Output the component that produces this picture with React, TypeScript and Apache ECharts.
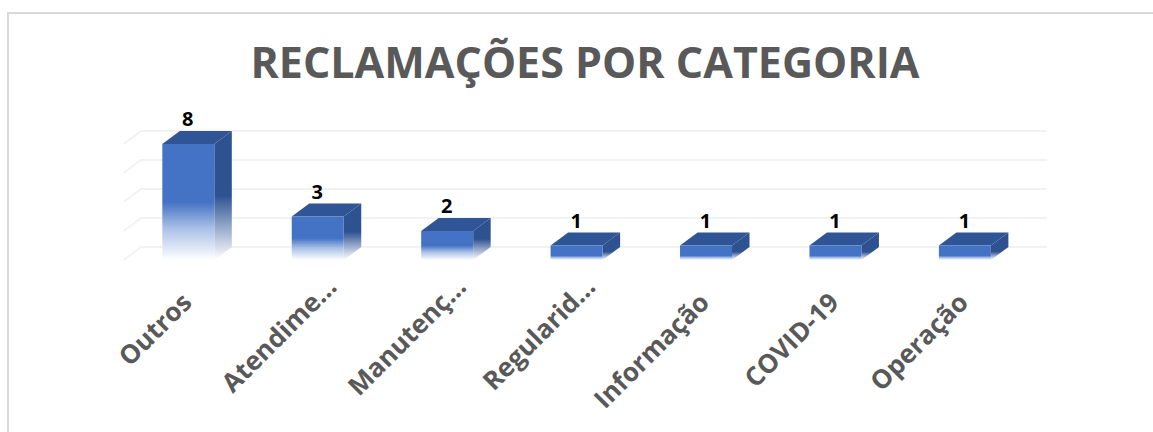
import React, { useEffect, useRef } from "react";
import * as echarts from "echarts";

const categories = ["Outros", "Atendime...", "Manutenç...", "Regularid...", "Informação", "COVID-19", "Operação"];
const values = [8, 3, 2, 1, 1, 1, 1];
const wallTicks = [0, 2, 4, 6, 8];

const DX = 17.5;
const DY = 13;
const BAR_W = 52;

const labelFont = {
  fontFamily: "Open Sans",
  fontWeight: 700,
  fontSize: 26,
  color: "#595959",
};

export default function App() {
  const ref = useRef<HTMLDivElement>(null);
  useEffect(() => {
    document.body.style.margin = "0";
    const chart = echarts.init(ref.current!, null, { renderer: "svg" });
    chart.setOption({
      animation: false,
      backgroundColor: "#ffffff",
      title: {
        text: "RECLAMAÇÕES POR CATEGORIA",
        left: 580,
        top: 35,
        textAlign: "center",
        textStyle: { fontFamily: "Open Sans", fontWeight: 700, fontSize: 43, color: "#595959" },
      },
      graphic: [
        {
          type: "rect",
          shape: { x: 8, y: 13, width: 1300, height: 600 },
          style: { fill: "none", stroke: "#D9D9D9", lineWidth: 2 },
          silent: true,
          z: -1,
        },
      ],
      grid: { left: 123.6, top: 144, width: 906, height: 116 },
      xAxis: {
        type: "category",
        data: categories,
        axisLine: { show: false },
        axisTick: { show: false },
        axisLabel: {
          interval: 0,
          rotate: 45,
          margin: 8,
          ...labelFont,
          formatter: (v: string) => (v.endsWith("...") ? `{t|${v}}` : `{n|${v}}`),
          rich: {
            t: { ...labelFont, padding: [38, 0, 0, 0] },
            n: { ...labelFont, padding: [38, 22, 0, 0] },
          },
        },
      },
      yAxis: {
        type: "value",
        min: 0,
        max: 8,
        interval: 2,
        axisLabel: { show: false },
        axisLine: { show: false },
        axisTick: { show: false },
        splitLine: { show: false },
      },
      series: [
        {
          type: "custom",
          z: 1,
          silent: true,
          data: wallTicks.map((t) => [t]),
          renderItem: (_p: any, api: any) => {
            const v = api.value(0);
            const band = api.size([1, 0])[0];
            const first = api.coord([0, v]);
            const last = api.coord([categories.length - 1, v]);
            const x0 = first[0] - band / 2;
            const x1 = last[0] + band / 2;
            const y = first[1];
            return {
              type: "polyline",
              shape: { points: [[x0, y], [x0 + DX, y - DY], [x1 + DX, y - DY]] },
              style: { fill: "none", stroke: "#F2F2F2", lineWidth: 2 },
            };
          },
        },
        {
          type: "custom",
          z: 2,
          silent: true,
          data: values.map((v, i) => [i, v]),
          renderItem: (_p: any, api: any) => {
            const i = api.value(0);
            const v = api.value(1);
            const top = api.coord([i, v]);
            const base = api.coord([i, 0]);
            const l = top[0] - BAR_W / 2;
            const r = top[0] + BAR_W / 2;
            const t = top[1];
            const b = base[1];
            const solid = v === 1 ? 0.7 : 0.5;
            const fade = (c: string, lo: string) => ({
              type: "linear",
              x: 0,
              y: 0,
              x2: 0,
              y2: 1,
              colorStops: [
                { offset: 0, color: c },
                { offset: solid, color: c },
                { offset: solid + (1 - solid) * 0.45, color: lo },
                { offset: 1, color: "#FFFFFF" },
              ],
            });
            return {
              type: "group",
              children: [
                {
                  type: "polygon",
                  shape: { points: [[r, t], [r + DX, t - DY], [r + DX, b - DY], [r, b]] },
                  style: { fill: fade("#2E5290", "#8DA2C6") },
                },
                {
                  type: "polygon",
                  shape: { points: [[l, t], [l + DX, t - DY], [r + DX, t - DY], [r, t]] },
                  style: { fill: "#2F5597" },
                },
                {
                  type: "rect",
                  shape: { x: l, y: t, width: BAR_W, height: b - t },
                  style: { fill: fade("#4472C4", "#A9C0E6") },
                },
                {
                  type: "text",
                  style: {
                    x: top[0] - 0.5,
                    y: t - DY - 2.5,
                    text: String(v),
                    textAlign: "center",
                    textVerticalAlign: "bottom",
                    fontFamily: "Open Sans",
                    fontWeight: 700,
                    fontSize: 20,
                    fill: "#000000",
                  },
                },
              ],
            };
          },
        },
      ],
    });
    return () => chart.dispose();
  }, []);
  return <div ref={ref} style={{ width: 1153, height: 432 }} />;
}
